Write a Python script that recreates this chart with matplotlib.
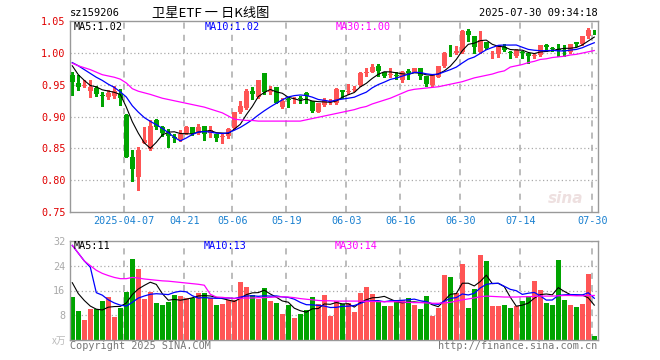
import numpy as np
import pandas as pd
import matplotlib
matplotlib.use("Agg")
import matplotlib.pyplot as plt

# daily bars, 2025-03-24 .. 2025-07-30
opens = [0.965, 0.953, 0.948, 0.940, 0.945, 0.933, 0.931, 0.932, 0.936, 0.902,
         0.837, 0.805, 0.859, 0.849, 0.895, 0.884, 0.875, 0.868, 0.864, 0.875,
         0.883, 0.875, 0.886, 0.875, 0.873, 0.868, 0.869, 0.882, 0.907, 0.914,
         0.941, 0.931, 0.968, 0.938, 0.947, 0.915, 0.927, 0.927, 0.929, 0.937,
         0.925, 0.908, 0.919, 0.923, 0.921, 0.942, 0.938, 0.942, 0.950, 0.968,
         0.971, 0.979, 0.970, 0.966, 0.965, 0.957, 0.972, 0.971, 0.976, 0.964,
         0.950, 0.963, 0.979, 1.002, 0.9995, 1.001, 1.035, 1.027, 1.001, 1.018,
         1.001, 0.998, 1.010, 1.001, 0.996, 1.001, 1.000, 0.995, 0.997, 1.013,
         1.008, 1.006, 1.004, 1.001, 1.018, 1.014, 1.027, 1.035]
highs = [0.971, 0.965, 0.957, 0.958, 0.949, 0.939, 0.942, 0.948, 0.944, 0.904,
         0.847, 0.852, 0.883, 0.894, 0.896, 0.885, 0.880, 0.873, 0.879, 0.886,
         0.884, 0.889, 0.886, 0.886, 0.873, 0.872, 0.882, 0.908, 0.924, 0.944,
         0.946, 0.958, 0.968, 0.949, 0.947, 0.930, 0.930, 0.931, 0.933, 0.938,
         0.925, 0.921, 0.930, 0.928, 0.945, 0.942, 0.951, 0.949, 0.971, 0.976,
         0.983, 0.983, 0.970, 0.976, 0.970, 0.972, 0.975, 0.976, 0.976, 0.964,
         0.967, 0.980, 1.002, 1.013, 1.011, 1.036, 1.0375, 1.027, 1.035, 1.018,
         1.004, 1.013, 1.014, 1.004, 1.006, 1.004, 1.000, 0.998, 1.013, 1.015,
         1.010, 1.014, 1.013, 1.014, 1.018, 1.027, 1.039, 1.036]
lows = [0.934, 0.942, 0.946, 0.931, 0.932, 0.916, 0.927, 0.930, 0.918, 0.836,
        0.799, 0.784, 0.858, 0.848, 0.880, 0.870, 0.853, 0.860, 0.862, 0.873,
        0.871, 0.873, 0.864, 0.868, 0.862, 0.859, 0.867, 0.881, 0.906, 0.912,
        0.928, 0.930, 0.936, 0.936, 0.921, 0.914, 0.915, 0.921, 0.921, 0.922,
        0.908, 0.907, 0.917, 0.920, 0.920, 0.930, 0.936, 0.941, 0.949, 0.964,
        0.970, 0.964, 0.963, 0.962, 0.959, 0.955, 0.959, 0.970, 0.959, 0.949,
        0.949, 0.962, 0.978, 0.996, 0.998, 1.000, 1.019, 0.9995, 0.9995, 1.006,
        0.993, 0.994, 1.004, 0.992, 0.994, 0.992, 0.985, 0.993, 0.996, 1.004,
        1.004, 0.996, 0.996, 1.000, 1.011, 1.013, 1.0245, 1.030]
closes = [0.955, 0.947, 0.950, 0.946, 0.936, 0.932, 0.9375, 0.940, 0.929, 0.837,
          0.817, 0.847, 0.864, 0.886, 0.884, 0.875, 0.869, 0.867, 0.872, 0.883,
          0.873, 0.884, 0.872, 0.879, 0.866, 0.870, 0.880, 0.907, 0.917, 0.941,
          0.935, 0.958, 0.939, 0.941, 0.922, 0.924, 0.926, 0.928, 0.927, 0.933,
          0.909, 0.921, 0.926, 0.924, 0.943, 0.939, 0.940, 0.944, 0.968, 0.971,
          0.978, 0.972, 0.964, 0.967, 0.964, 0.970, 0.968, 0.976, 0.964, 0.951,
          0.966, 0.979, 1.000, 1.001, 1.004, 1.035, 1.029, 1.009, 1.021, 1.008,
          1.002, 1.013, 1.005, 1.000, 1.005, 1.000, 0.995, 0.996, 1.013, 1.009,
          1.007, 1.005, 1.003, 1.014, 1.015, 1.027, 1.036, 1.034]
volumes = [13.9, 9.4, 6.5, 10.1, 10.1, 12.6, 13.9, 7.5, 10.4, 15.5,
           26.1, 22.9, 13.3, 15.5, 12.0, 11.3, 12.3, 14.6, 14.2, 13.6,
           13.6, 15.2, 15.2, 13.6, 11.3, 11.7, 12.9, 12.9, 18.7, 17.1,
           14.6, 13.3, 16.8, 12.6, 12.0, 8.5, 11.3, 7.2, 8.5, 9.7,
           13.9, 11.7, 14.6, 7.9, 12.6, 11.7, 11.9, 9.2, 15.3, 17.1,
           14.8, 12.4, 11.0, 11.0, 12.9, 12.9, 13.6, 11.3, 10.1, 14.2,
           7.9, 10.5, 21.0, 20.3, 15.3, 24.6, 10.5, 16.6, 27.4, 25.5,
           11.0, 11.0, 11.3, 10.5, 11.0, 12.7, 14.2, 19.2, 16.3, 12.0,
           11.3, 25.8, 13.1, 11.3, 10.7, 11.7, 21.4, 1.4]

# moving averages before the window is full
ma5_head = [0.980, 0.966, 0.957, 0.949]
ma10_head = [0.985, 0.980, 0.974, 0.968, 0.962, 0.957, 0.951, 0.946, 0.939]
ma30 = [0.984, 0.980, 0.977, 0.974, 0.970, 0.966, 0.964, 0.962, 0.959, 0.953,
        0.944, 0.940, 0.9375, 0.935, 0.932, 0.929, 0.927, 0.925, 0.923, 0.921,
        0.919, 0.917, 0.915, 0.912, 0.909, 0.906, 0.901, 0.896, 0.895, 0.894,
        0.894, 0.893, 0.893, 0.893, 0.893, 0.893, 0.893, 0.893, 0.893, 0.895,
        0.897, 0.899, 0.901, 0.903, 0.905, 0.907, 0.909, 0.911, 0.914, 0.916,
        0.920, 0.923, 0.926, 0.929, 0.933, 0.937, 0.941, 0.943, 0.944, 0.945,
        0.946, 0.947, 0.949, 0.951, 0.953, 0.955, 0.958, 0.961, 0.963, 0.965,
        0.967, 0.970, 0.972, 0.978, 0.980, 0.982, 0.985, 0.987, 0.990, 0.991,
        0.993, 0.994, 0.995, 0.997, 0.998, 1.000, 1.002, 1.004]
vol_ma5_head = [18.5, 15.0, 12.8, 11.0]
vol_ma10_head = [30.5, 28.0, 25.5, 23.5, 15.3, 14.5, 13.0, 12.0, 11.3]
vol_ma30 = [30.5, 28.0, 25.5, 24.0, 22.5, 21.5, 20.8, 20.2, 19.8, 19.8,
            20.2, 20.0, 19.7, 19.5, 19.3, 19.1, 19.0, 18.8, 18.6, 18.4,
            18.2, 18.0, 17.7, 14.8, 13.9, 13.8, 13.6, 13.5, 13.5, 13.6,
            13.6, 13.7, 13.7, 13.8, 13.9, 14.0, 13.9, 13.7, 13.4, 13.2,
            13.0, 12.8, 12.7, 12.7, 12.6, 12.6, 12.6, 12.6, 12.6, 12.5,
            12.5, 12.4, 12.4, 12.4, 12.4, 12.3, 12.2, 12.1, 12.1, 12.0,
            11.9, 11.9, 12.0, 12.2, 12.6, 13.0, 13.3, 13.6, 14.0, 14.2,
            14.1, 14.0, 13.9, 13.9, 13.9, 14.0, 14.0, 14.1, 14.2, 14.2,
            14.2, 14.3, 14.4, 14.4, 14.3, 14.3, 14.4, 14.4]

date_idx = [9, 19, 27, 36, 46, 55, 65, 75, 87]
date_labels = ["2025-04-07", "04-21", "05-06", "05-19", "06-03",
               "06-16", "06-30", "07-14", "07-30"]
price_ticks = [0.75, 0.80, 0.85, 0.90, 0.95, 1.00, 1.05]
vol_ticks = [8, 16, 24, 32]

df = pd.DataFrame({"o": opens, "h": highs, "l": lows, "c": closes, "v": volumes})
ma5 = df["c"].rolling(5).mean().to_numpy()
ma5[:4] = ma5_head
ma10 = df["c"].rolling(10).mean().to_numpy()
ma10[:9] = ma10_head
vma5 = df["v"].rolling(5).mean().to_numpy()
vma5[:4] = vol_ma5_head
vma10 = df["v"].rolling(10).mean().to_numpy()
vma10[:9] = vol_ma10_head

RED = "#ff5555"
GREEN = "#00a400"
GRID = "#aaaaaa"
MONO = "DejaVu Sans Mono"

x = np.arange(len(df))
up = df["c"] >= df["o"]
cols = np.where(up, RED, GREEN)

fig = plt.figure(figsize=(6.6, 3.6), dpi=100)
axp = fig.add_axes([70.3 / 660, 148 / 360, 527.4 / 660, 190.7 / 360])
axv = fig.add_axes([70.3 / 660, 19.7 / 360, 527.4 / 660, 99.6 / 360])

xl = (-1 / 3, 87.57)
grid_x = [i - 1 / 3 for i in date_idx]

for ax in (axp, axv):
    ax.set_xlim(*xl)
    for s in ax.spines.values():
        s.set_color("#999999")
        s.set_linewidth(1.0)
    for gx in grid_x:
        ax.axvline(gx, color=GRID, lw=1.1, ls=(0, (4, 4)), zorder=0)
    ax.tick_params(length=0)

# price panel
axp.set_ylim(0.75, 1.05)
for p in price_ticks[1:-1]:
    axp.axhline(p, color=GRID, lw=0.9, ls=(0, (1, 2)), zorder=0)
axp.vlines(x, df["l"], df["h"], colors=cols, lw=0.9, zorder=2,
           antialiased=False)
body = np.maximum((df["c"] - df["o"]).abs(), 0.0014)
axp.bar(x, body, bottom=np.minimum(df["o"], df["c"]), width=0.82,
        color=cols, lw=0, zorder=3, antialiased=False)
axp.plot(x, ma5, color="black", lw=0.8, zorder=4)
axp.plot(x, ma10, color="#0000ff", lw=0.9, zorder=4)
axp.plot(x, ma30, color="#ff00ff", lw=0.9, zorder=5)
axp.set_yticks(price_ticks)
axp.set_yticklabels([f"{p:.2f}" for p in price_ticks], color="#e00000",
                    fontfamily=MONO, fontsize=7.3)
axp.tick_params(axis="y", pad=3.5)
axp.set_xticks(grid_x)
axp.set_xticklabels(date_labels, color="#1a80d0", fontfamily=MONO, fontsize=7.3)
axp.tick_params(axis="x", pad=3)
axp.text(0.972, 0.07, "sina", transform=axp.transAxes, ha="right", va="center",
         fontsize=11, fontstyle="italic", fontweight="bold", color="#eee0e0",
         zorder=1)

# volume panel
axv.set_ylim(0, 32)
for v in vol_ticks[:-1]:
    axv.axhline(v, color=GRID, lw=0.9, ls=(0, (1, 2)), zorder=0)
axv.bar(x, df["v"], width=0.82, color=cols, lw=0, zorder=2, antialiased=False)
axv.plot(x, vma5, color="black", lw=0.8, zorder=4)
axv.plot(x, vma10, color="#0000ff", lw=0.9, zorder=4)
axv.plot(x, vol_ma30, color="#ff00ff", lw=0.9, zorder=5)
axv.set_yticks(vol_ticks)
axv.set_yticklabels([str(v) for v in vol_ticks], color="#aaaaaa",
                    fontfamily=MONO, fontsize=7.3)
axv.tick_params(axis="y", pad=3.5)
axv.set_xticks([])

# header and labels
fig.text(70 / 660, 1 - 13 / 360, "sz159206", fontfamily=MONO, fontsize=7.5,
         va="center", ha="left")
fig.text(211 / 660, 1 - 13 / 360, "卫星ETF 一 日K线图",
         family=["Noto Sans CJK SC", "DejaVu Sans"], fontsize=9.5,
         va="center", ha="center")
fig.text(598 / 660, 1 - 13 / 360, "2025-07-30 09:34:18", fontfamily=MONO,
         fontsize=7.5, va="center", ha="right")

fig.text(74 / 660, 1 - 27 / 360, "MA5:1.02", color="black", fontfamily=MONO,
         fontsize=7.3, va="center")
fig.text(205 / 660, 1 - 27 / 360, "MA10:1.02", color="#0000ff", fontfamily=MONO,
         fontsize=7.3, va="center")
fig.text(336 / 660, 1 - 27 / 360, "MA30:1.00", color="#ff00ff", fontfamily=MONO,
         fontsize=7.3, va="center")

fig.text(74 / 660, 1 - 246 / 360, "MA5:11", color="black", fontfamily=MONO,
         fontsize=7.3, va="center")
fig.text(204 / 660, 1 - 246 / 360, "MA10:13", color="#0000ff", fontfamily=MONO,
         fontsize=7.3, va="center")
fig.text(335 / 660, 1 - 246 / 360, "MA30:14", color="#ff00ff", fontfamily=MONO,
         fontsize=7.3, va="center")

fig.text(66 / 660, 1 - 341 / 360, "x万", color="#bbbbbb",
         family=["Noto Sans CJK SC", "DejaVu Sans"], fontsize=7,
         va="center", ha="right")
fig.text(70 / 660, 1 - 346 / 360, "Copyright 2025 SINA.COM", color="#777777",
         fontfamily=MONO, fontsize=7.3, va="center", ha="left")
fig.text(597 / 660, 1 - 346 / 360, "http://finance.sina.com.cn", color="#777777",
         fontfamily=MONO, fontsize=7.3, va="center", ha="right")

fig.savefig("out.png", dpi=100)
